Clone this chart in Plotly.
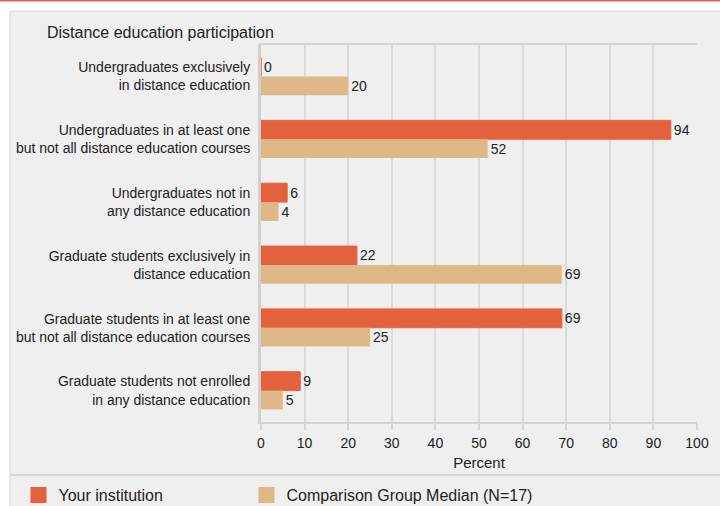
import plotly.graph_objects as go

categories = [
    "Undergraduates exclusively<br>in distance education",
    "Undergraduates in at least one<br>but not all distance education courses",
    "Undergraduates not in<br>any distance education",
    "Graduate students exclusively in<br>distance education",
    "Graduate students in at least one<br>but not all distance education courses",
    "Graduate students not enrolled<br>in any distance education",
]
your_institution = [0, 94, 6, 22, 69, 9]
comparison_median = [20, 52, 4, 69, 25, 5]
x_ticks = [0, 10, 20, 30, 40, 50, 60, 70, 80, 90, 100]
series_names = ["Your institution", "Comparison Group Median (N=17)"]

ORANGE = "#E4613E"
TAN = "#DFB887"
FONT = "Liberation Sans, Arial, sans-serif"
TXT = "#222222"

W, H = 720, 506
L, R, T, B = 261, 23, 45, 84
pw, ph = W - L - R, H - T - B

def px_x(px):
    return (px - L) / pw

def px_y(py):
    return (H - B - py) / ph

fig = go.Figure()
for vals, name, color in [(your_institution, series_names[0], ORANGE),
                          (comparison_median, series_names[1], TAN)]:
    fig.add_trace(go.Bar(
        y=categories, x=vals, orientation="h", name=name, showlegend=False,
        marker=dict(color=color, line=dict(color=color, width=1 if color == ORANGE else 0)),
        text=[str(v) for v in vals], textposition="outside",
        textfont=dict(size=14, color=TXT, family=FONT), cliponaxis=False,
        hoverinfo="skip",
    ))
# legend entries with square swatches (one legend per entry)
for name, color, leg in [(series_names[0], ORANGE, "legend"), (series_names[1], TAN, "legend2")]:
    fig.add_trace(go.Scatter(
        x=[None], y=[None], mode="markers", name=name, showlegend=True, legend=leg,
        marker=dict(symbol="square", size=16, color=color, line=dict(width=0)),
    ))

shapes = [
    dict(type="rect", xref="paper", yref="paper", x0=px_x(10), x1=px_x(740),
         y0=px_y(520), y1=px_y(11), fillcolor="#EFEFEF",
         line=dict(color="#D8D8D8", width=1), layer="below"),
    dict(type="line", xref="paper", yref="paper", x0=px_x(10), x1=px_x(740),
         y0=px_y(475), y1=px_y(475), line=dict(color="#D8D8D8", width=2), layer="below"),
    dict(type="line", xref="paper", yref="paper", x0=px_x(-5), x1=px_x(740),
         y0=px_y(0.5), y1=px_y(0.5), line=dict(color=ORANGE, width=2), layer="below"),
]

legend_common = dict(orientation="h", xanchor="left", yanchor="middle",
                     xref="container", yref="container", y=1 - 495 / H,
                     bgcolor="rgba(0,0,0,0)", borderwidth=0,
                     font=dict(size=16, color=TXT, family=FONT), itemsizing="trace")

fig.update_layout(
    width=W, height=H,
    margin=dict(l=L, r=R, t=T, b=B, pad=0, autoexpand=False),
    paper_bgcolor="white", plot_bgcolor="rgba(0,0,0,0)",
    font=dict(family=FONT, size=14, color=TXT),
    barmode="group", bargap=0.4, bargroupgap=0,
    title=dict(text="Distance education participation", x=47 / W, xanchor="left",
               y=1 - 32 / H, yanchor="middle", xref="container", yref="container",
               font=dict(size=16, color=TXT, family=FONT)),
    shapes=shapes,
    showlegend=True,
    legend=dict(x=18.5 / W, **legend_common),
    legend2=dict(x=246.5 / W, **legend_common),
)
fig.update_xaxes(
    range=[0, 100], tickvals=x_ticks, ticks="outside", ticklen=6, tickcolor="#D4D4D4",
    tickwidth=2, showgrid=True, gridcolor="#DADADA", gridwidth=2,
    showline=True, linecolor="#D4D4D4", linewidth=2, mirror=True, zeroline=False,
    tickfont=dict(size=14, color=TXT), ticklabelstandoff=1,
    title=dict(text="Percent", font=dict(size=15, color=TXT), standoff=8),
    fixedrange=True,
)
fig.update_yaxes(
    autorange="reversed", showline=True, linecolor="#D0D0D0", linewidth=3, mirror=False,
    ticks="", ticklabelstandoff=5, tickfont=dict(size=14, color=TXT), fixedrange=True,
)

fig.write_html("out.html", config={"displayModeBar": False},
               post_script="document.body.style.margin='0';document.body.style.overflow='hidden';")
